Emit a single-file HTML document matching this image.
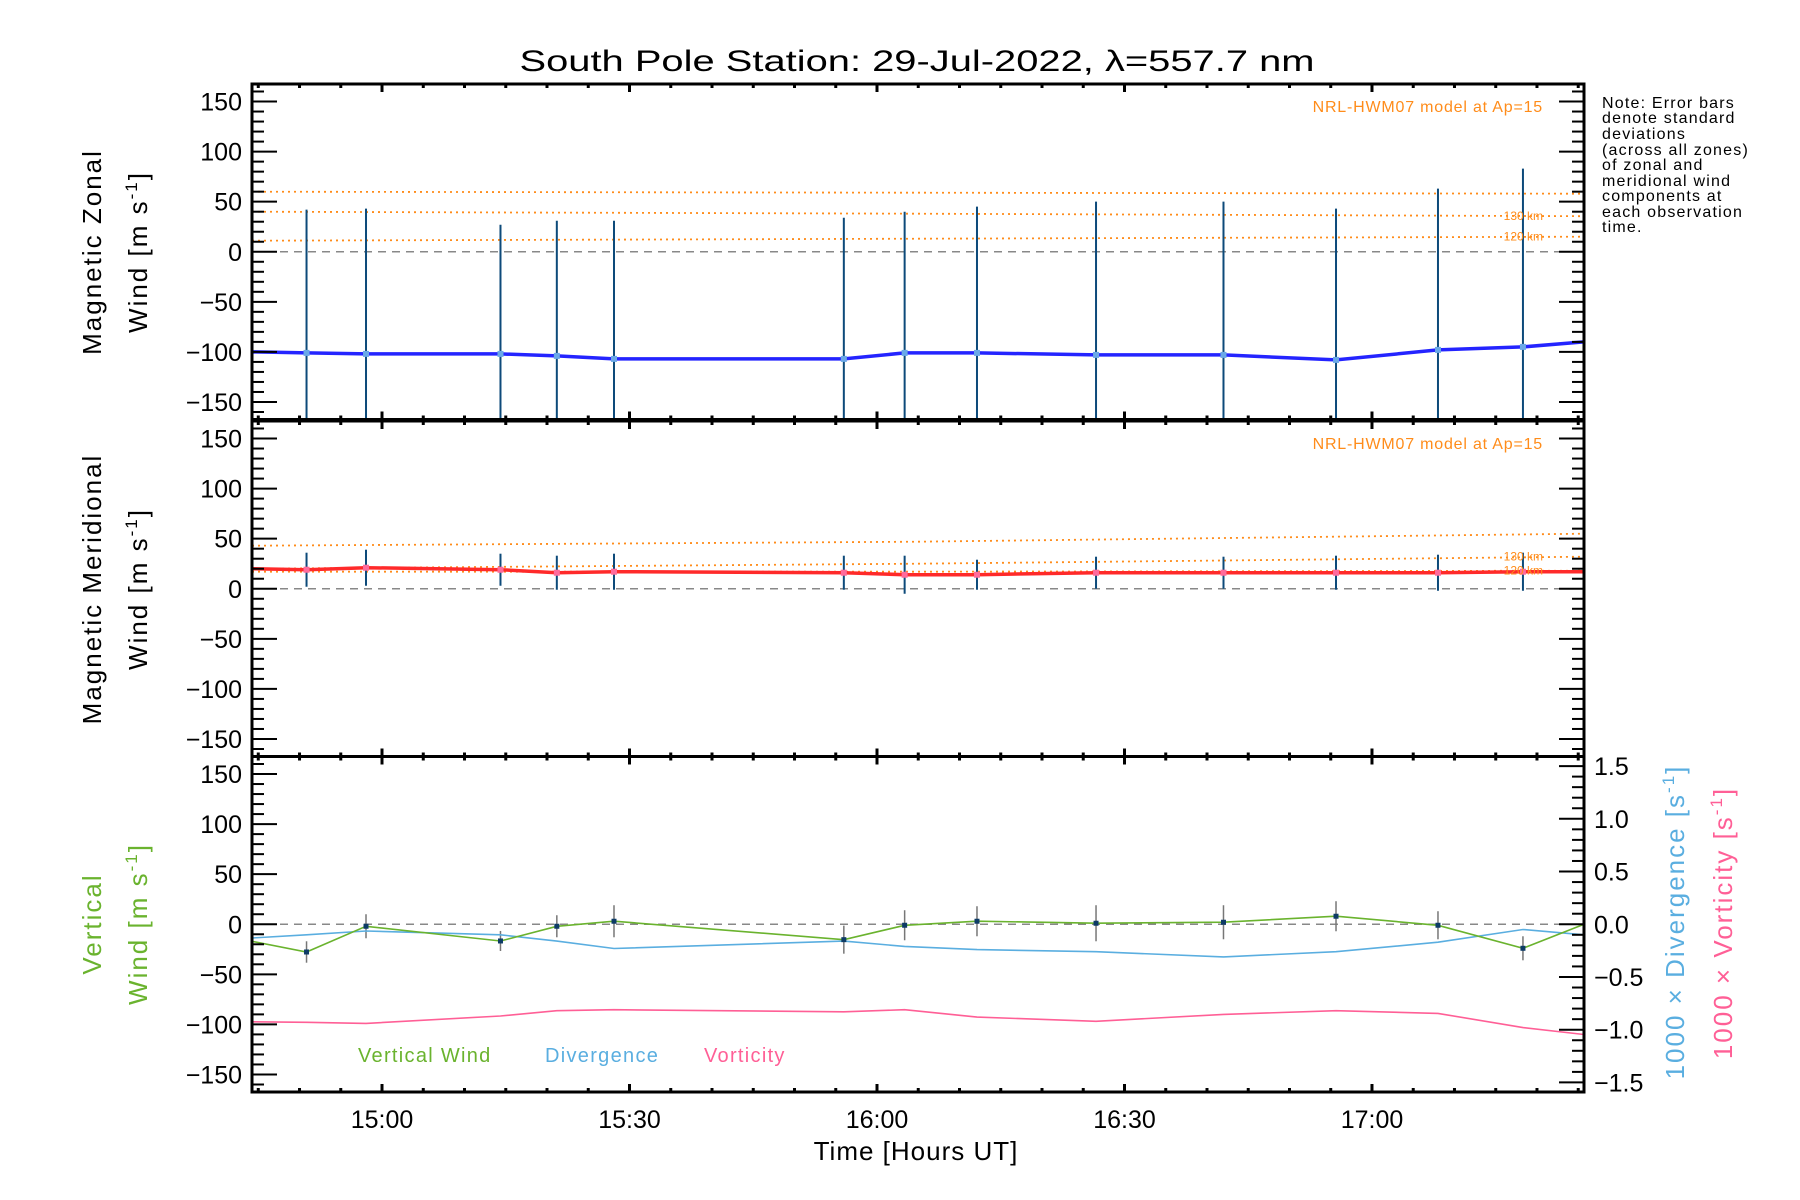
<!DOCTYPE html>
<html><head><meta charset="utf-8"><style>
html,body{margin:0;padding:0;background:#fff;}
svg{display:block;font-family:"Liberation Sans",sans-serif;}
</style></head><body>
<svg id="chart" width="1800" height="1200" viewBox="0 0 1800 1200" xmlns="http://www.w3.org/2000/svg">
<text x="917" y="71" font-size="30" text-anchor="middle" textLength="795" lengthAdjust="spacingAndGlyphs">South Pole Station: 29-Jul-2022, λ=557.7 nm</text>
<g font-size="16" letter-spacing="1.2" fill="#000">
<text x="1602" y="108">Note: Error bars</text>
<text x="1602" y="123">denote standard</text>
<text x="1602" y="139">deviations</text>
<text x="1602" y="155">(across all zones)</text>
<text x="1602" y="170">of zonal and</text>
<text x="1602" y="186">meridional wind</text>
<text x="1602" y="201">components at</text>
<text x="1602" y="217">each observation</text>
<text x="1602" y="232">time.</text>
</g>
</svg>
<script>
// ---- data (minutes after 14:00 UT) ----
const obsTimes = [50.85, 58.06, 74.36, 81.19, 88.12, 115.98, 123.35, 132.12, 146.55, 162.0, 175.64, 188.0, 198.3];
const lineTimes = [44.24, 50.85, 58.06, 74.36, 81.19, 88.12, 115.98, 123.35, 132.12, 146.55, 162.0, 175.64, 188.0, 198.3, 205.7];
const zonalWind = [-100, -101, -102, -102, -104, -107, -107, -101, -101, -103, -103, -108, -98, -95, -90];
const zonalStd = [143, 145, 129, 135, 138, 141, 141, 146, 153, 153, 151, 161, 178];
const meridWind = [20, 19, 21, 19, 16, 17, 16, 14, 14, 16, 16, 16, 16, 17, 17];
const meridStd = [17, 18, 16, 17, 18, 17, 19, 15, 16, 16, 17, 18, 19];
const vertWind = [-17, -27.7, -2, -16.7, -2, 3, -15.4, -1, 3, 1, 2, 8, -1, -24, 0];
const vertStd = [10.7, 12, 10, 11, 16, 14, 15, 15, 18, 17, 15, 14, 12];
const divergence = [-0.13, -0.1, -0.064, -0.1, -0.16, -0.23, -0.16, -0.21, -0.24, -0.26, -0.31, -0.26, -0.17, -0.05, -0.1];
const vorticity = [-0.925, -0.93, -0.94, -0.87, -0.82, -0.81, -0.83, -0.81, -0.88, -0.92, -0.855, -0.82, -0.845, -0.98, -1.045];
const modelTimes = [44.24, 125, 205.7];
const zonalModelA = [60, 59, 58];
const zonalModel130 = [40, 38, 35.5];
const zonalModel120 = [11, 13, 15];
const meridModelA = [43, 47, 55];
const meridModel130 = [20, 25, 32];
const meridModel120 = [17, 17, 18];
const yTicks = [150, 100, 50, 0, -50, -100, -150];
const rTicks = [1.5, 1.0, 0.5, 0.0, -0.5, -1.0, -1.5];
const xTickMinutes = [60, 90, 120, 150, 180];
const xTickLabels = ["15:00", "15:30", "16:00", "16:30", "17:00"];

const NS = "http://www.w3.org/2000/svg";
const svg = document.getElementById("chart");
const L = 252, R = 1584;
const panelTops = [84, 421, 756.5], PH = 335.5;
const T0 = 44.24, T1 = 205.7;
function X(m){ return L + (m - T0) / (T1 - T0) * (R - L); }
function Y(p, v){ const top = panelTops[p]; return top + (167.5 - v) / 335 * PH; }
function YR(v){ return Y(2, v * 105.3); }
function el(tag, attrs, parent){ const e = document.createElementNS(NS, tag); for (const k in attrs) e.setAttribute(k, attrs[k]); (parent || svg).appendChild(e); return e; }
function pts(times, vals, f){ return times.map((t, i) => X(t).toFixed(1) + "," + f(vals[i]).toFixed(1)).join(" "); }

for (let p = 0; p < 3; p++) {
  const g = el("g", {});
  
  
  const top = panelTops[p], bot = top + PH;
  const clipId = "clip" + p;
  const cp = el("clipPath", {id: clipId}, g);
  el("rect", {x: L, y: top, width: R - L, height: PH}, cp);
  const z = el("line", {x1: L, x2: R, y1: Y(p, 0), y2: Y(p, 0), stroke: "#888", "stroke-width": 1.5, "stroke-dasharray": "8,6"}, g);
  
  
  const dg = el("g", {"clip-path": "url(#" + clipId + ")"}, g);
  if (p < 2) {
    const models = p === 0 ? [zonalModelA, zonalModel130, zonalModel120] : [meridModelA, meridModel130, meridModel120];
    models.forEach((m, i) => {
      const ml = el("polyline", {points: pts(modelTimes, m, v => Y(p, v)), fill: "none", stroke: "#ff8c1a", "stroke-width": 1.8, "stroke-dasharray": "2,4"}, dg);
      
      
    });
    const nl = el("text", {x: 1543, y: top + 28, "font-size": 16, "letter-spacing": 0.8, fill: "#ff8c1a", "text-anchor": "end"}, g);
    nl.textContent = "NRL-HWM07 model at Ap=15";
    
    
    const mean = p === 0 ? zonalWind : meridWind, sd = p === 0 ? zonalStd : meridStd;
    obsTimes.forEach((t, i) => {
      const v = mean[i + 1];
      const e = el("line", {x1: X(t), x2: X(t), y1: Y(p, v + sd[i]), y2: Y(p, v - sd[i]), stroke: "#0d4a7a", "stroke-width": 2}, dg);
      
      
    });
    const ln = el("polyline", {points: pts(lineTimes, mean, v => Y(p, v)), fill: "none", stroke: p === 0 ? "#2424ff" : "#ff2a2a", "stroke-width": 3.5}, dg);
    
    
    obsTimes.forEach((t, i) => {
      const d = el("rect", {x: X(t) - 3, y: Y(p, mean[i + 1]) - 3, width: 6, height: 6, fill: p === 0 ? "#6aa8e8" : "#ff6b9b"}, dg);
      
      
    });
    const last = p === 0 ? [zonalModel130, zonalModel120] : [meridModel130, meridModel120];
    ["130 km", "120 km"].forEach((s, i) => {
      const t = el("text", {x: 1543, y: Y(p, last[i][2]) + 4, "font-size": 12, fill: "#ff8c1a", "text-anchor": "end"}, g);
      t.textContent = s;
      
      
    });
  } else {
    obsTimes.forEach((t, i) => {
      const v = vertWind[i + 1];
      const e = el("line", {x1: X(t), x2: X(t), y1: Y(2, v + vertStd[i]), y2: Y(2, v - vertStd[i]), stroke: "#777", "stroke-width": 1.5}, dg);
      
      
    });
    const dv = el("polyline", {points: pts(lineTimes, divergence, YR), fill: "none", stroke: "#5aaee0", "stroke-width": 1.6}, dg);
    
    
    const vo = el("polyline", {points: pts(lineTimes, vorticity, YR), fill: "none", stroke: "#ff5f96", "stroke-width": 1.6}, dg);
    
    
    const vw = el("polyline", {points: pts(lineTimes, vertWind, v => Y(2, v)), fill: "none", stroke: "#6ab32e", "stroke-width": 1.6}, dg);
    
    
    obsTimes.forEach((t, i) => {
      const d = el("rect", {x: X(t) - 2.5, y: Y(2, vertWind[i + 1]) - 2.5, width: 5, height: 5, fill: "#0d3b66"}, dg);
      
      
    });
    [["Vertical Wind", 358, "#6ab32e"], ["Divergence", 545, "#5aaee0"], ["Vorticity", 704, "#ff5f96"]].forEach(a => {
      const t = el("text", {x: a[1], y: 1062, "font-size": 20, "letter-spacing": 1.3, fill: a[2]}, g);
      t.textContent = a[0];
      
      
    });
  }
  const fr = el("rect", {x: L, y: top, width: R - L, height: PH, fill: "none", stroke: "#000", "stroke-width": 3}, g);
  
  
  for (let v = -160; v <= 160; v += 10) {
    const maj = v % 50 === 0, len = maj ? 25 : 12, y = Y(p, v);
    el("line", {x1: L, x2: L + len, y1: y, y2: y, stroke: "#000", "stroke-width": 2}, g);
    if (p < 2) el("line", {x1: R, x2: R - len, y1: y, y2: y, stroke: "#000", "stroke-width": 2}, g);
  }
  yTicks.forEach(v => {
    const t = el("text", {x: 242, y: Y(p, v) + 9, "font-size": 25, "text-anchor": "end"}, g);
    t.textContent = v < 0 ? "\u2212" + Math.abs(v) : String(v);
    
    
  });
  for (let m = 45; m <= 205; m += 5) {
    const maj = m % 30 === 0, len = maj ? 8 : 4, x = X(m);
    el("line", {x1: x, x2: x, y1: top, y2: top + len, stroke: "#000", "stroke-width": 3}, g);
    el("line", {x1: x, x2: x, y1: bot, y2: bot - len, stroke: "#000", "stroke-width": 3}, g);
  }
}
for (let k = -15; k <= 15; k++) {
  const v = k / 10, y = YR(v), len = k % 5 === 0 ? 25 : 12;
  el("line", {x1: R, x2: R - len, y1: y, y2: y, stroke: "#000", "stroke-width": 2});
}
rTicks.forEach(v => {
  const t = el("text", {x: 1594, y: YR(v) + 9, "font-size": 25});
  t.textContent = (v < 0 ? "\u2212" : "") + Math.abs(v).toFixed(1);
  
  
});
xTickMinutes.forEach((m, i) => {
  const t = el("text", {x: X(m), y: 1128, "font-size": 25, "text-anchor": "middle"});
  t.textContent = xTickLabels[i];
  
  
});
const xt = el("text", {x: 916, y: 1160, "font-size": 26, "letter-spacing": 1, "text-anchor": "middle"});
xt.textContent = "Time [Hours UT]";


function vlabel(x, y, html, color, name){
  const t = el("text", {x: x, y: y, "font-size": 26, "letter-spacing": 2, "text-anchor": "middle", fill: color, transform: "rotate(-90 " + x + " " + y + ")"});
  t.innerHTML = html;
  
  
}
const unit = 'Wind [m s<tspan dy="-10" font-size="17">-1</tspan><tspan dy="10">]</tspan>';
vlabel(101, 252, "Magnetic Zonal", "#000", "y-axis-title-zonal");
vlabel(147, 252, unit, "#000", "y-axis-unit-zonal");
vlabel(101, 589, "Magnetic Meridional", "#000", "y-axis-title-meridional");
vlabel(147, 589, unit, "#000", "y-axis-unit-meridional");
vlabel(101, 924, "Vertical", "#6ab32e", "y-axis-title-vertical");
vlabel(147, 924, unit, "#6ab32e", "y-axis-unit-vertical");
vlabel(1684, 922, '1000 × Divergence [s<tspan dy="-10" font-size="17">-1</tspan><tspan dy="10">]</tspan>', "#5aaee0", "right-axis-title-divergence");
vlabel(1732, 923, '1000 × Vorticity [s<tspan dy="-10" font-size="17">-1</tspan><tspan dy="10">]</tspan>', "#ff5f96", "right-axis-title-vorticity");
</script>
</body></html>
